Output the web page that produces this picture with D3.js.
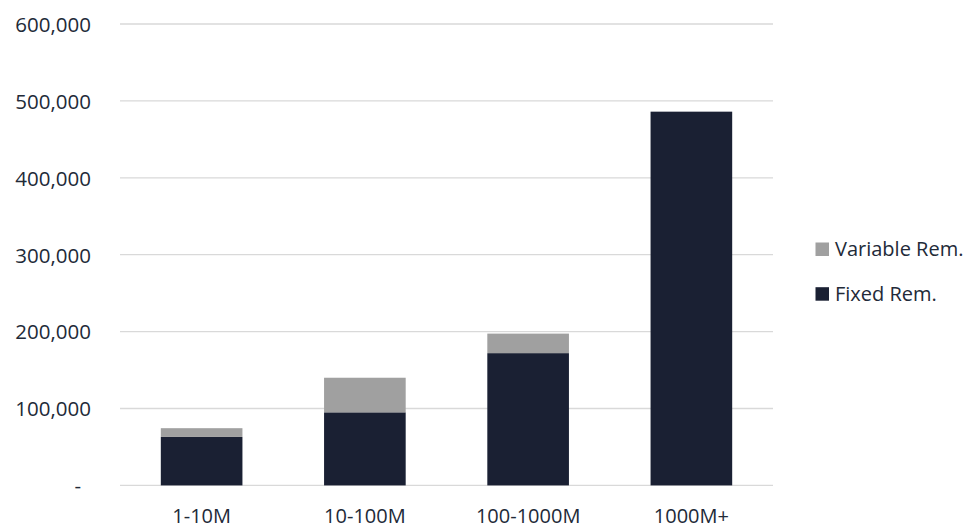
<!DOCTYPE html>
<html>
<head>
<meta charset="utf-8">
<script src="https://cdn.jsdelivr.net/npm/d3@7"></script>
<style>
  html, body { margin: 0; padding: 0; background: #fff; }
  svg text { font-family: "Open Sans", "Noto Sans", sans-serif; fill: #222a38; }
</style>
</head>
<body>
<svg id="chart" width="969" height="529"></svg>
<script>
const categories = ["1-10M", "10-100M", "100-1000M", "1000M+"];
const fixedRem = [63000, 95000, 172000, 486000];
const variableRem = [11400, 45000, 25400, 0];
const yTicks = [0, 100000, 200000, 300000, 400000, 500000, 600000];
const seriesNames = ["Variable Rem.", "Fixed Rem."];
const seriesColors = ["#a0a0a0", "#1a2033"];

(function () {
const svg = d3.select("#chart");
const pLeft = 120, pRight = 773, pTop = 24, pBottom = 485.4;

const x = d3.scaleBand().domain(categories).range([pLeft, pRight])
  .paddingInner(0.5).paddingOuter(0.25);
const y = d3.scaleLinear().domain([0, 600000]).range([pBottom, pTop]);

// gridlines
svg.append("g").selectAll("line").data(yTicks).join("line")
  .attr("x1", pLeft).attr("x2", pRight)
  .attr("y1", d => y(d)).attr("y2", d => y(d))
  .attr("stroke", "#d9d9d9").attr("stroke-width", 1.3);

// y axis labels
const fmt = d3.format(",");
const yAxis = d3.axisLeft(y).tickValues(yTicks).tickSize(0).tickPadding(0)
  .tickFormat(d => d === 0 ? "-" : fmt(d));
const ya = svg.append("g").attr("transform", "translate(91,0)").call(yAxis);
ya.attr("font-family", null).attr("font-size", null);
ya.select(".domain").remove();
ya.selectAll("text")
  .attr("font-size", 20.5)
  .attr("fill", null)
  .attr("dy", "0.36em")
  .attr("dx", d => d === 0 ? -10 : 0);

// stacked data
const rows = categories.map((c, i) => ({ cat: c, fixed: fixedRem[i], variable: variableRem[i] }));
const stack = d3.stack().keys(["fixed", "variable"])(rows);
const colorFor = { fixed: seriesColors[1], variable: seriesColors[0] };

svg.append("g").selectAll("g").data(stack).join("g")
  .attr("fill", s => colorFor[s.key])
  .selectAll("rect").data(s => s).join("rect")
  .attr("x", d => x(d.data.cat))
  .attr("width", x.bandwidth())
  .attr("y", d => y(d[1]))
  .attr("height", d => Math.max(0, y(d[0]) - y(d[1])));

// x axis labels
const xAxis = d3.axisBottom(x).tickSize(0).tickPadding(0);
const xa = svg.append("g").attr("transform", `translate(0,${pBottom})`).call(xAxis);
xa.attr("font-family", null).attr("font-size", null);
xa.select(".domain").remove();
xa.selectAll("text")
  .attr("font-size", 20)
  .attr("fill", null)
  .attr("y", 37.8)
  .attr("dy", 0);

// legend
const legend = svg.append("g");
const legY = [242.5, 287.2];
seriesNames.forEach((name, i) => {
  legend.append("rect").attr("x", 815.5).attr("y", legY[i])
    .attr("width", 13.5).attr("height", 13.5).attr("fill", seriesColors[i]);
  legend.append("text").attr("x", 835).attr("y", legY[i] + 13.5)
    .attr("font-size", 20).text(name);
});
})();
</script>
</body>
</html>
